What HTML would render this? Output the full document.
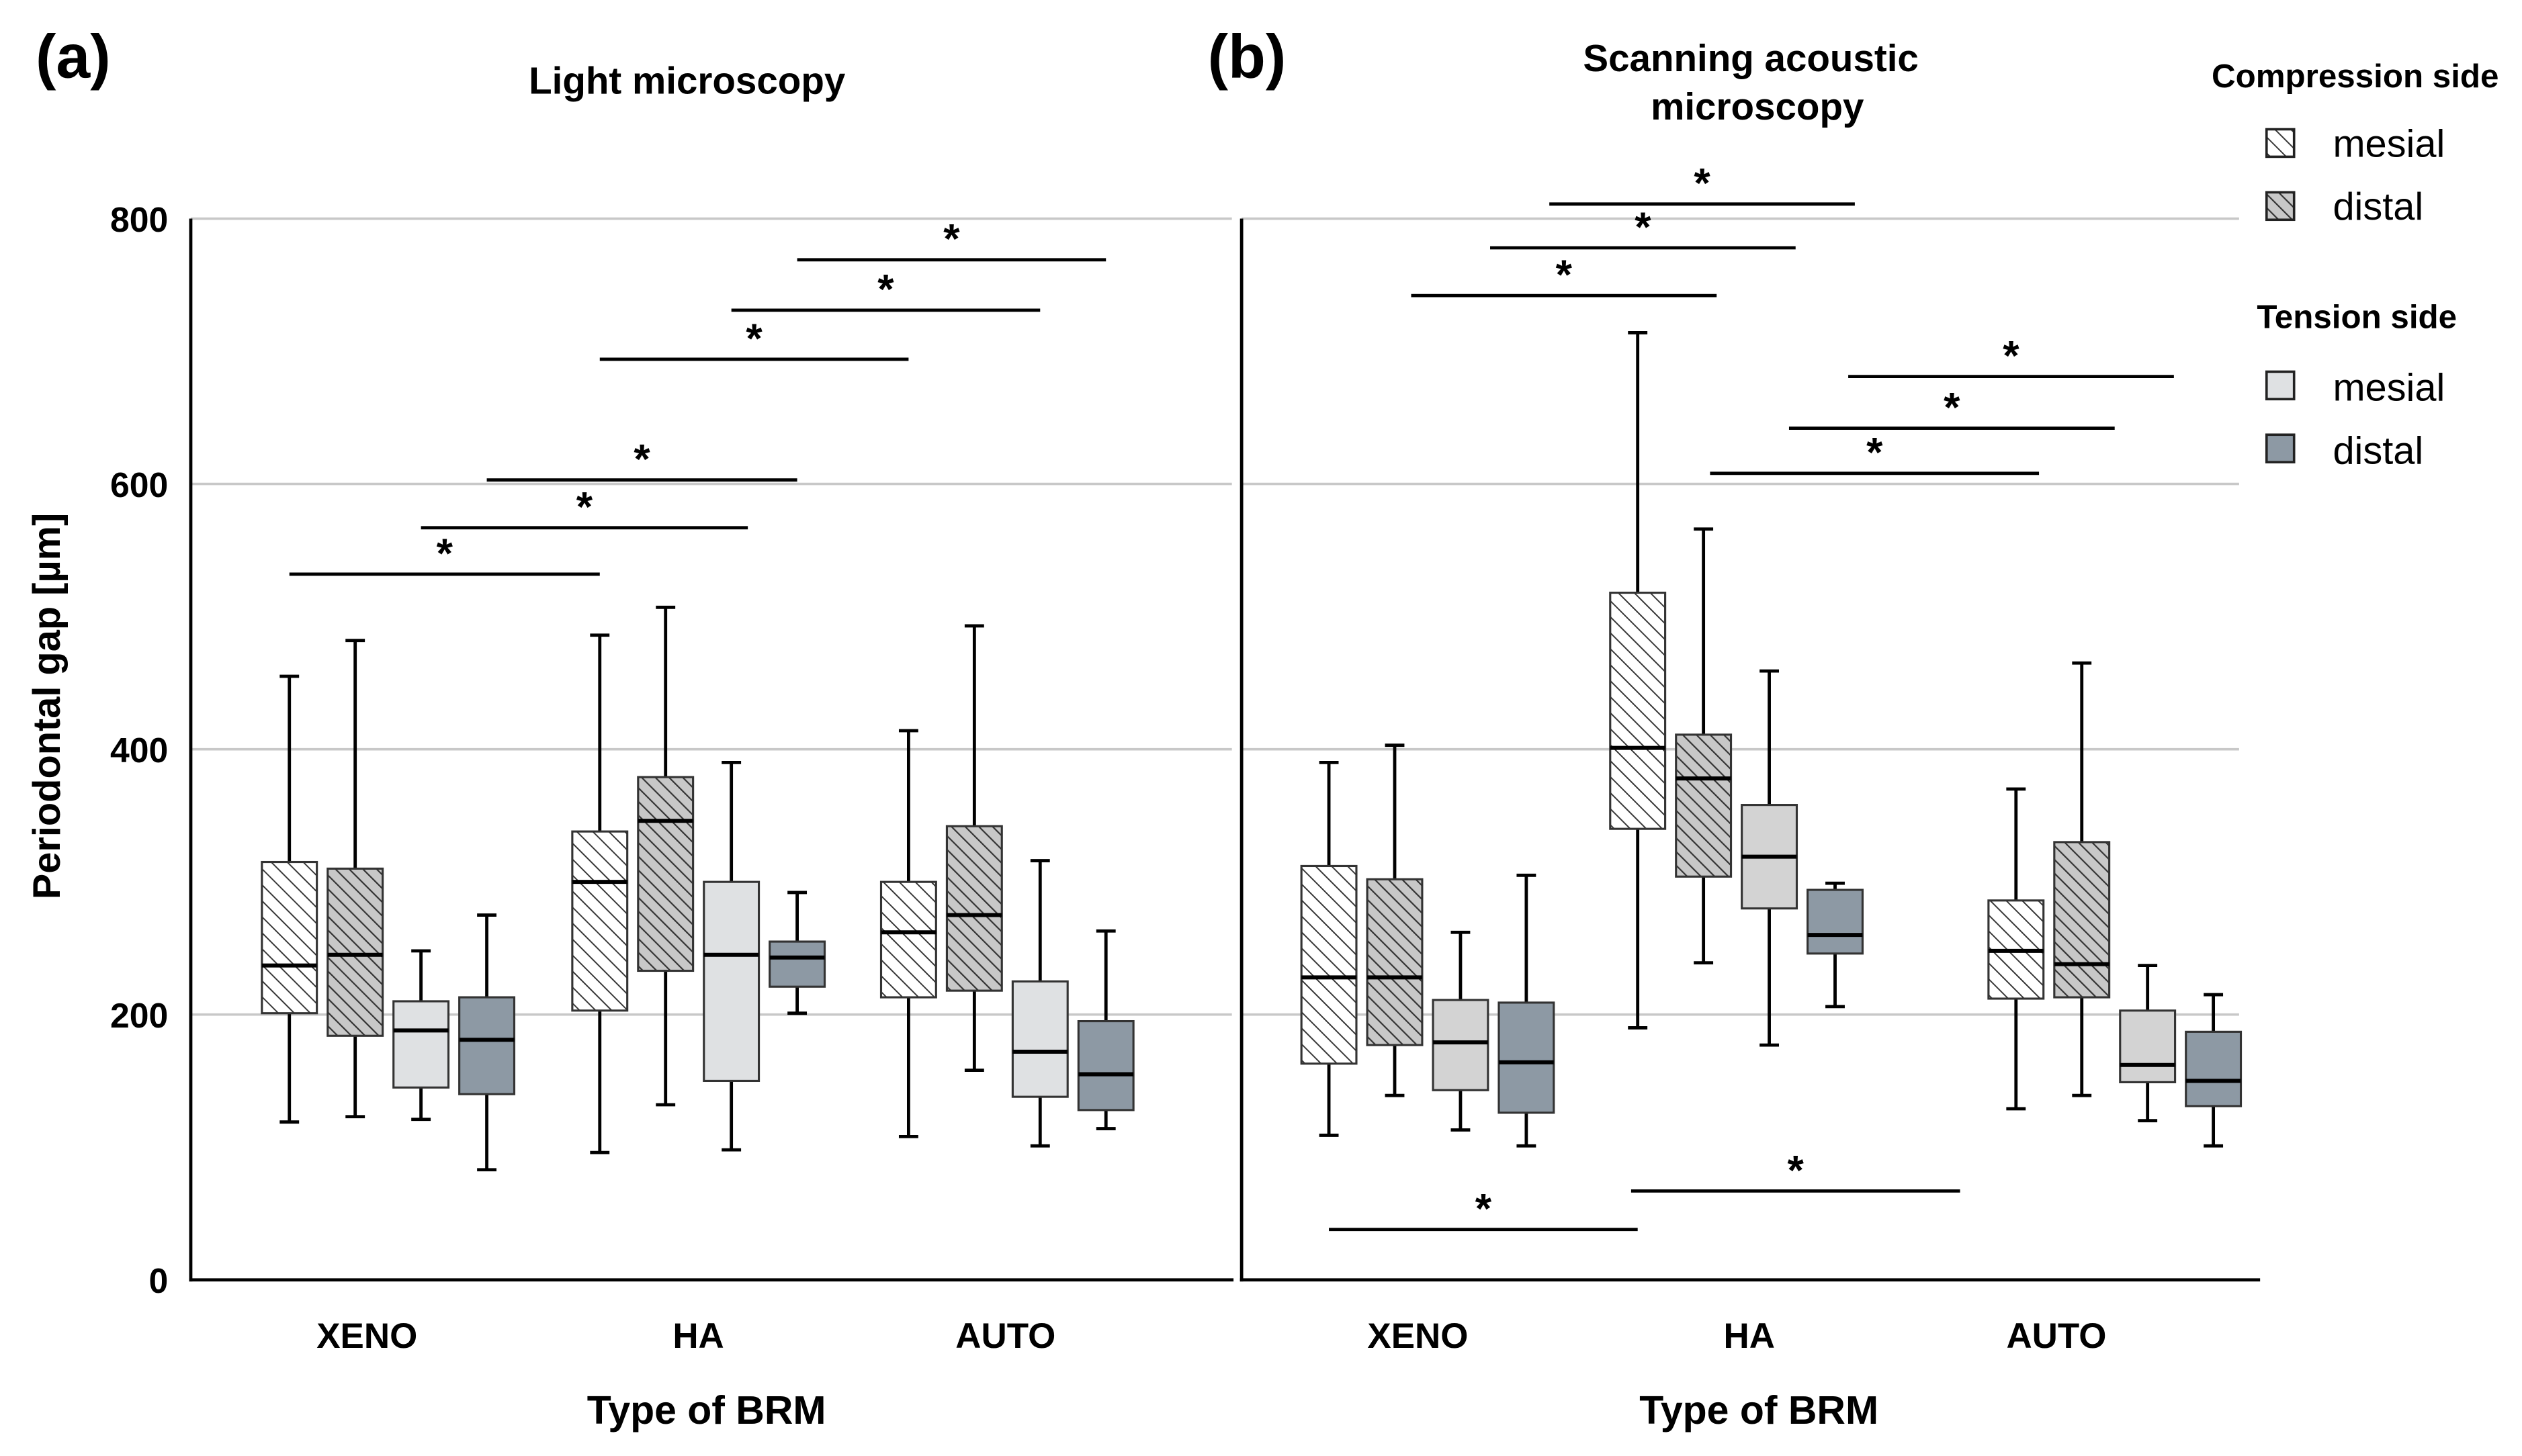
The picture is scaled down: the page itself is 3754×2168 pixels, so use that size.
<!DOCTYPE html>
<html><head><meta charset="utf-8"><style>
html,body{margin:0;padding:0;background:#fff;}
svg{display:block;}
text{font-family:"Liberation Sans",sans-serif;}
</style></head><body>
<svg id="chart" width="3754" height="2168" viewBox="0 0 1560 901" preserveAspectRatio="none" xmlns="http://www.w3.org/2000/svg">
<defs>
<pattern id="hatchW" patternUnits="userSpaceOnUse" width="7" height="7" patternTransform="rotate(-45)"><rect width="7" height="7" fill="#fff"/><line x1="0" y1="0" x2="0" y2="7" stroke="#333" stroke-width="1.6"/></pattern>
<pattern id="hatchG" patternUnits="userSpaceOnUse" width="6" height="6" patternTransform="rotate(-45)"><rect width="6" height="6" fill="#c8c8c8"/><line x1="0" y1="0" x2="0" y2="6" stroke="#333" stroke-width="1.8"/></pattern>
</defs>
<g id="plots"></g>
<text x="22" y="48" font-size="38" font-weight="bold">(a)</text>
<text x="747" y="48" font-size="38" font-weight="bold">(b)</text>
<text x="425" y="58" font-size="23.5" font-weight="bold" text-anchor="middle">Light microscopy</text>
<text x="1083" y="44" font-size="23.5" font-weight="bold" text-anchor="middle">Scanning acoustic</text>
<text x="1087" y="74" font-size="23.5" font-weight="bold" text-anchor="middle">microscopy</text>
<text transform="translate(37,437) rotate(-90)" font-size="24" font-weight="bold" text-anchor="middle">Periodontal gap [µm]</text>
<text x="437" y="881" font-size="24.5" font-weight="bold" text-anchor="middle">Type of BRM</text>
<text x="1088" y="881" font-size="24.5" font-weight="bold" text-anchor="middle">Type of BRM</text>
<g>
<text x="1368" y="54" font-size="20.5" font-weight="bold">Compression side</text>
<rect x="1402" y="80" width="17" height="17" fill="url(#hatchW)" stroke="#222" stroke-width="1.5"/>
<text x="1443" y="97" font-size="24">mesial</text>
<rect x="1402" y="119" width="17" height="17" fill="url(#hatchG)" stroke="#222" stroke-width="1.5"/>
<text x="1443" y="136" font-size="24">distal</text>
<text x="1396" y="203" font-size="20.5" font-weight="bold">Tension side</text>
<rect x="1402" y="230" width="17" height="17" fill="#dfe1e3" stroke="#222" stroke-width="1.5"/>
<text x="1443" y="248" font-size="24">mesial</text>
<rect x="1402" y="269" width="17" height="17" fill="#8d99a4" stroke="#222" stroke-width="1.5"/>
<text x="1443" y="287" font-size="24">distal</text>
</g>
</svg>
<script>
const categories = ["XENO", "HA", "AUTO"];
const seriesNames = ["comp-mesial", "comp-distal", "tens-mesial", "tens-distal"];
const yTicks = [0, 200, 400, 600, 800];
// [max, q3, median, q1, min] per category per series
const lmCompMesial = [[455,315,237,201,119],[486,338,300,203,96],[414,300,262,213,108]];
const lmCompDistal = [[482,310,245,184,123],[507,379,346,233,132],[493,342,275,218,158]];
const lmTensMesial = [[248,210,188,145,121],[390,300,245,150,98],[316,225,172,138,101]];
const lmTensDistal = [[275,213,181,140,83],[292,255,243,221,201],[263,195,155,128,114]];
const samCompMesial = [[390,312,228,163,109],[714,518,401,340,190],[370,286,248,212,129]];
const samCompDistal = [[403,302,228,177,139],[566,411,378,304,239],[465,330,238,213,139]];
const samTensMesial = [[262,211,179,143,113],[459,358,319,280,177],[237,203,162,149,120]];
const samTensDistal = [[305,209,164,126,101],[299,294,260,246,206],[215,187,150,131,101]];
// significance brackets: [level, fromCategory, fromSeriesPos, toCategory, toSeriesPos]
const lmSig = [[532,0,0,1,0],[567,0,2,1,2.25],[603,0,3,1,3],[694,1,0,2,0],[731,1,2,2,2],[769,1,3,2,3]];
const samSig = [[811,0,3.35,1,3.3],[778,0,2.45,1,2.4],[742,0,1.25,1,1.2],[681,1,3.2,2,2.4],[642,1,2.3,2,1.5],[608,1,1.1,2,0.35],[38,0,0,1,0],[67,1,-0.1,2,-0.85]];

const NS = "http://www.w3.org/2000/svg";
const root = document.getElementById('plots');
function mk(tag, attrs, parent){
  const e = document.createElementNS(NS, tag);
  for (const k in attrs) e.setAttribute(k, attrs[k]);
  (parent||root).appendChild(e);
  return e;
}
const baseY = 792, topY = 135.3;
function yScale(v){ return baseY - v*(baseY-topY)/800; }
function seriesOffset(s){ return -61 + 40.7*s; }
const fills = ["url(#hatchW)", "url(#hatchG)", "#dfe1e3", "#8d99a4"];

function panel(name, axisX, axisEnd, gridEnd, groupCenters, labelXs, series, sig, tensMesialFill){
  const g = mk('g', {});
  
  
  yTicks.forEach(t => {
    if (t > 0) {
      const gl = mk('line', {x1:axisX, x2:gridEnd, y1:yScale(t), y2:yScale(t), stroke:'#c8c8c8', 'stroke-width':1.5}, g);
      
      
    }
    if (name === 'panel-a') {
      const tl = mk('text', {x:104, y:yScale(t)+8, 'font-size':21.5, 'font-weight':'bold', 'text-anchor':'end'}, g);
      tl.textContent = t;
      
      
    }
  });
  const ya = mk('line', {x1:axisX, x2:axisX, y1:topY, y2:baseY+1, stroke:'#000', 'stroke-width':2}, g);
  
  
  const xa = mk('line', {x1:axisX-1, x2:axisEnd, y1:baseY, y2:baseY, stroke:'#000', 'stroke-width':2}, g);
  
  
  categories.forEach((c, ci) => {
    const lbl = mk('text', {x:labelXs[ci], y:834, 'font-size':22, 'font-weight':'bold', 'text-anchor':'middle'}, g);
    lbl.textContent = c;
    
    
    series.forEach((s, si) => {
      const d = s[ci];
      const cx = groupCenters[ci] + seriesOffset(si);
      const w = 34;
      const bg = mk('g', {}, g);
      
      
      mk('line', {x1:cx, x2:cx, y1:yScale(d[0]), y2:yScale(d[4]), stroke:'#000', 'stroke-width':2}, bg);
      mk('line', {x1:cx-6, x2:cx+6, y1:yScale(d[0]), y2:yScale(d[0]), stroke:'#000', 'stroke-width':2}, bg);
      mk('line', {x1:cx-6, x2:cx+6, y1:yScale(d[4]), y2:yScale(d[4]), stroke:'#000', 'stroke-width':2}, bg);
      const f = (si === 2) ? tensMesialFill : fills[si];
      mk('rect', {x:cx-w/2, y:yScale(d[1]), width:w, height:yScale(d[3])-yScale(d[1]), fill:f, stroke:'#333', 'stroke-width':1.3}, bg);
      mk('line', {x1:cx-w/2, x2:cx+w/2, y1:yScale(d[2]), y2:yScale(d[2]), stroke:'#000', 'stroke-width':2.5}, bg);
    });
  });
  sig.forEach((sg, i) => {
    const x1 = groupCenters[sg[1]] + seriesOffset(sg[2]);
    const x2 = groupCenters[sg[3]] + seriesOffset(sg[4]);
    const y = yScale(sg[0]);
    const sl = mk('line', {x1:x1, x2:x2, y1:y, y2:y, stroke:'#000', 'stroke-width':2}, g);
    
    
    const st = mk('text', {x:(x1+x2)/2, y:y-4, 'font-size':26, 'font-weight':'bold', 'text-anchor':'middle'}, g);
    st.textContent = '*';
    
    
  });
}
panel('panel-a', 118, 763, 762, [240, 432, 623], [227, 432, 622], [lmCompMesial, lmCompDistal, lmTensMesial, lmTensDistal], lmSig, '#dfe1e3');
panel('panel-b', 768, 1398, 1385, [883, 1074, 1308], [877, 1082, 1272], [samCompMesial, samCompDistal, samTensMesial, samTensDistal], samSig, '#d3d3d3');
</script>
</body></html>
